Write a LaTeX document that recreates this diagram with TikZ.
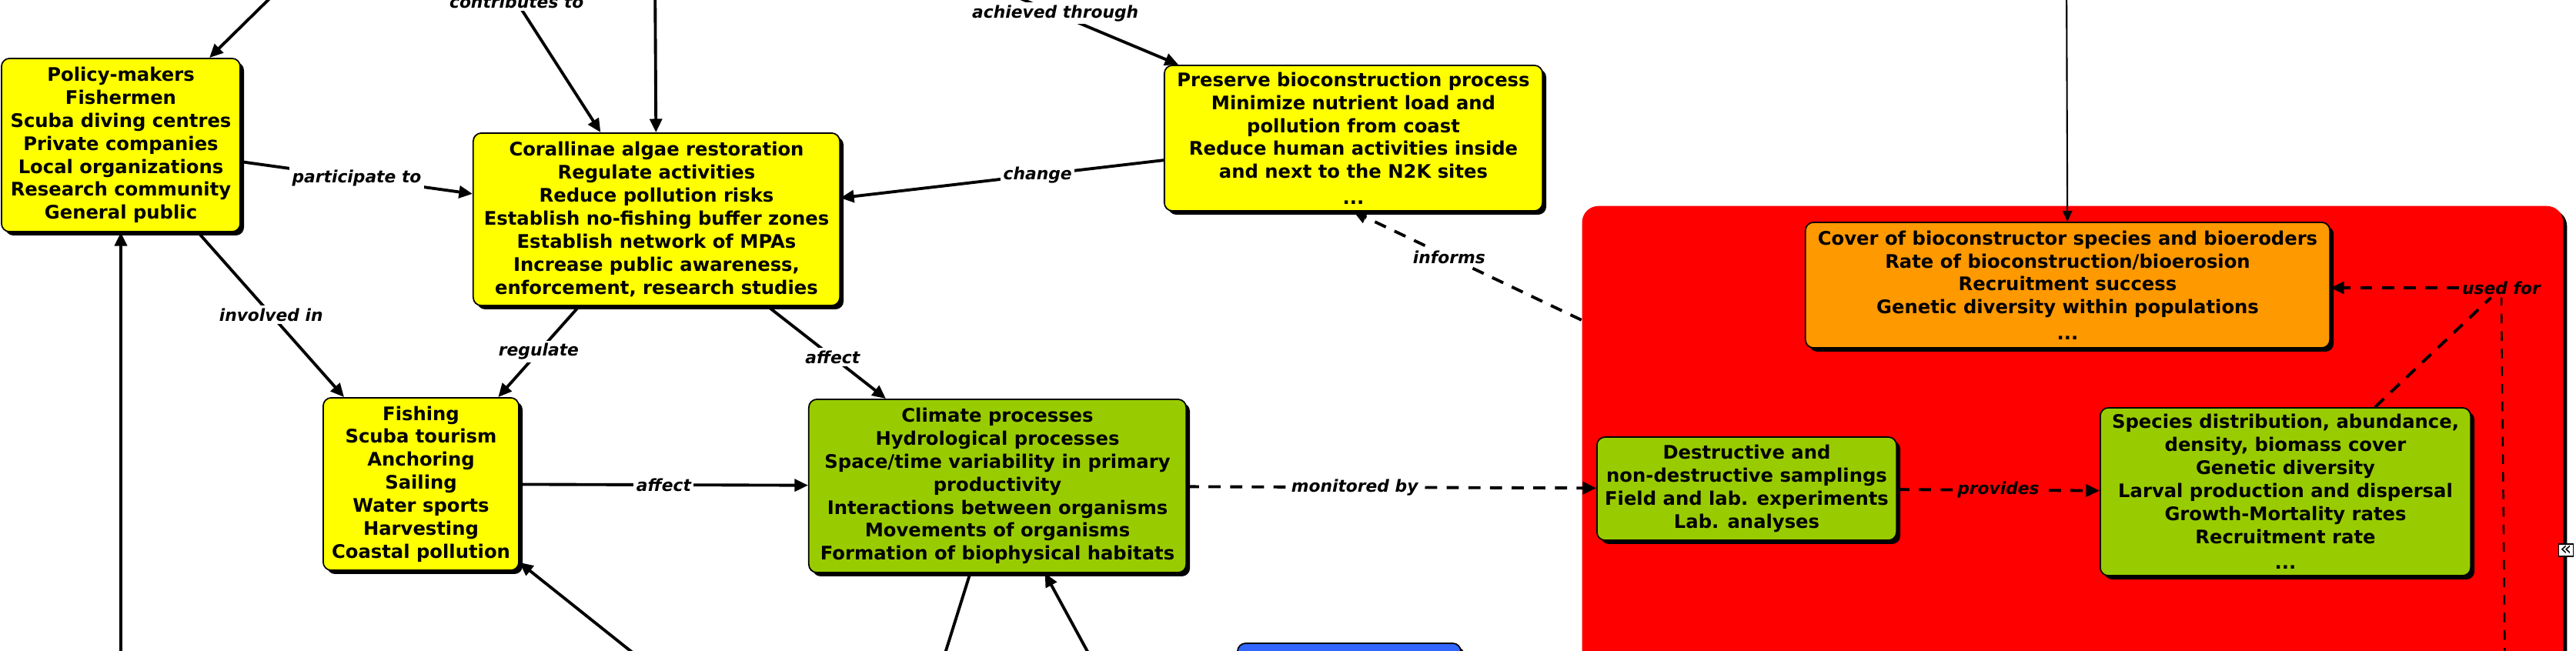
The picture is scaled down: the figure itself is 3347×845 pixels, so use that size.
\documentclass[tikz,border=0pt]{standalone}
\usepackage{fontspec}
\setmainfont{DejaVu Sans}
\usetikzlibrary{arrows.meta,shadows}
\definecolor{cmyellow}{HTML}{FFFF00}
\definecolor{cmgreen}{HTML}{99CC00}
\definecolor{cmorange}{HTML}{FF9900}
\definecolor{cmred}{HTML}{FF0000}
\definecolor{cmblue}{HTML}{3366FF}
\newcommand{\cfont}{\fontsize{6.9}{8.5}\selectfont\bfseries}
\newcommand{\lfont}{\fontsize{6.2}{7}\selectfont\bfseries\itshape}

\begin{document}
\begin{tikzpicture}[x=0.01cm, y=-0.01cm,
  concept/.style={draw, line width=0.5pt, rounded corners=3pt, align=center,
    font=\cfont, inner sep=2pt,
    drop shadow={shadow xshift=1.4pt, shadow yshift=-1.4pt, fill=black, opacity=1}},
  lbl/.style={font=\lfont, fill=white, inner sep=1pt},
  redlbl/.style={lbl, fill=cmred},
  cmlink/.style={line width=1.1pt, -{Triangle[length=5pt,width=4.5pt]}},
  cmline/.style={line width=1.1pt},
  cmdash/.style={cmlink, dash pattern=on 4.5pt off 3.5pt},
  cmdashline/.style={cmline, dash pattern=on 4.5pt off 3.5pt},
  thinlink/.style={line width=0.6pt, -{Triangle[length=4pt,width=3.5pt]}},
  thindash/.style={line width=0.7pt, dash pattern=on 3.5pt off 3pt}]
  \useasboundingbox (0,0) rectangle (3347,845);
  \clip (0,0) rectangle (3347,845);

  % monitoring frame
  \node[concept, draw=none, fill=cmred, rounded corners=6pt,
        minimum width=12.74cm, minimum height=8.98cm] (measure) at (2693,717) {};

  % concepts
  \node[concept, fill=cmyellow, minimum width=3.10cm, minimum height=2.25cm] (stake) at (157,188.5)
    {Policy-makers\\Fishermen\\Scuba diving centres\\Private companies\\Local organizations\\Research community\\General public};
  \node[concept, fill=cmyellow, minimum width=4.76cm, minimum height=2.24cm] (coral) at (853,285)
    {Corallinae algae restoration\\Regulate activities\\Reduce pollution risks\\Establish no-fishing buffer zones\\Establish network of MPAs\\Increase public awareness,\\enforcement, research studies};
  \node[concept, fill=cmyellow, minimum width=4.91cm, minimum height=1.89cm] (preserve) at (1758.5,179.5)
    {Preserve bioconstruction process\\Minimize nutrient load and\\pollution from coast\\Reduce human activities inside\\and next to the N2K sites\\[1pt]...};
  \node[concept, fill=cmyellow, minimum width=2.54cm, minimum height=2.24cm] (uses) at (547,629)
    {Fishing\\Scuba tourism\\Anchoring\\Sailing\\Water sports\\Harvesting\\Coastal pollution};
  \node[concept, fill=cmgreen, minimum width=4.90cm, minimum height=2.25cm] (process) at (1296,631.5)
    {Climate processes\\Hydrological processes\\Space/time variability in primary\\productivity\\Interactions between organisms\\Movements of organisms\\Formation of biophysical habitats};
  \node[concept, fill=cmorange, minimum width=6.81cm, minimum height=1.63cm] (indic) at (2686.5,370.5)
    {Cover of bioconstructor species and bioeroders\\Rate of bioconstruction/bioerosion\\Recruitment success\\Genetic diversity within populations\\[1pt]...};
  \node[concept, fill=cmgreen, minimum width=3.89cm, minimum height=1.34cm] (sampling) at (2269.5,635)
    {Destructive and\\non-destructive samplings\\Field and lab. experiments\\Lab. analyses};
  \node[concept, fill=cmgreen, minimum width=4.81cm, minimum height=2.18cm] (params) at (2969.5,639)
    {Species distribution, abundance,\\density, biomass cover\\Genetic diversity\\Larval production and dispersal\\Growth-Mortality rates\\Recruitment rate\\[1pt]...};
  \node[concept, fill=cmblue, minimum width=2.90cm, minimum height=1.30cm] (bluebox) at (1753,901) {};
  \node[draw, fill=white, line width=0.4pt, inner sep=0.5pt, font=\fontsize{7}{7}\selectfont] (fold) at (3334,715) {«};

  % loose ends leaving the frame
  \coordinate (c1) at (389,-40);
  \coordinate (c2) at (644,-40);
  \coordinate (c3) at (851,-40);
  \coordinate (c4) at (1235,-40);
  \coordinate (c5) at (2685,-40);
  \coordinate (c6) at (157,900);
  \coordinate (c7) at (887,900);
  \coordinate (c8) at (1212,900);
  \coordinate (c9) at (1442,900);
  \coordinate (c10) at (3255,900);

  % connectors
  \draw[cmlink] (c1) -- (stake);
  \draw[cmlink] (c2) -- node[lbl, pos=0.2] {contributes to} (coral);
  \draw[cmlink] (c3) -- (coral);
  \draw[cmlink] (c4) -- node[lbl, pos=0.46] {achieved through} (preserve);
  \draw[thinlink] (c5) -- (indic);
  \draw[cmlink] (c6) -- (stake.south);
  \draw[cmlink] (c7) -- (uses);
  \draw[cmline] (process) -- (c8);
  \draw[cmlink] (c9) -- (process);

  \draw[cmlink] (stake) -- node[lbl] {participate to} (coral);
  \draw[cmlink] (stake) -- node[lbl] {involved in} (uses);
  \draw[cmlink] (coral) -- node[lbl] {regulate} (uses);
  \draw[cmlink] (coral) -- node[lbl, pos=0.55] {affect} (process);
  \draw[cmlink] (uses) -- node[lbl] {affect} (process);
  \draw[cmlink] (preserve) -- node[lbl, pos=0.39] {change} (coral);

  % monitoring side
  \draw[cmdash] (process) -- node[lbl, pos=0.41] {monitored by} (sampling);
  \draw[cmdash] (measure) -- node[lbl, pos=0.58] {informs} (preserve.south);
  \draw[cmdash] (sampling) -- node[redlbl] {provides} (params);
  \node[redlbl] (usedfor) at (3250,374) {used for};
  \draw[cmdashline] (params) -- (usedfor);
  \draw[thindash] (c10) -- (usedfor.south);
  \draw[cmdash] (usedfor) -- (usedfor -| indic.east);
\end{tikzpicture}
\end{document}
